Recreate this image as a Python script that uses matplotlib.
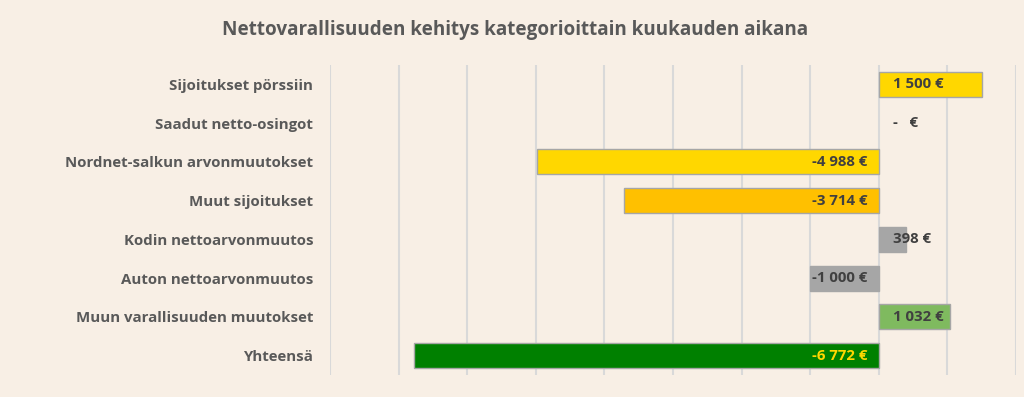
import matplotlib.pyplot as plt
import matplotlib as mpl

mpl.rcParams['font.family'] = ['Open Sans', 'DejaVu Sans']

# --- data ---
kategoriat = ['Sijoitukset pörssiin', 'Saadut netto-osingot', 'Nordnet-salkun arvonmuutokset',
              'Muut sijoitukset', 'Kodin nettoarvonmuutos', 'Auton nettoarvonmuutos',
              'Muun varallisuuden muutokset', 'Yhteensä']
arvot = [1500, 0, -4988, -3714, 398, -1000, 1032, -6772]
nimiot = ['1 500 €', '-   €', '-4 988 €', '-3 714 €', '398 €', '-1 000 €', '1 032 €', '-6 772 €']
varit = ['#FFD700', '#FFD700', '#FFD700', '#FFC000', '#A6A6A6', '#A6A6A6', '#7FBA5F', '#008000']
tekstivarit = ['#404040'] * 7 + ['#FFD700']

BG = '#F8EFE5'
fig = plt.figure(figsize=(10.24, 3.97), dpi=100, facecolor=BG)
ax = fig.add_axes([330/1024, 22/397, 686/1024, 310/397], facecolor=BG)

y = list(range(len(kategoriat)))
reunat = ['none' if v == 0 else '#A6A6A6' for v in arvot]
ax.barh(y, arvot, height=0.65, color=varit, edgecolor=reunat, linewidth=1.0, zorder=3)

for yi, v, txt, tc in zip(y, arvot, nimiot, tekstivarit):
    if v < 0:
        ax.annotate(txt, (0, yi), xytext=(-8, 0), textcoords='offset points',
                    ha='right', va='center', fontsize=10.8, fontweight='bold', color=tc, zorder=4)
    else:
        ax.annotate(txt, (0, yi), xytext=(10, 0), textcoords='offset points',
                    ha='left', va='center', fontsize=10.8, fontweight='bold', color=tc, zorder=4)

ax.set_xlim(-8000, 2000)
ax.set_ylim(len(kategoriat) - 0.5, -0.5)
ax.set_xticks(range(-8000, 2001, 1000))
ax.set_xticklabels([])
ax.tick_params(axis='x', length=0)
ax.tick_params(axis='y', length=0, pad=12)
ax.set_yticks(y)
ax.set_yticklabels(kategoriat, fontsize=10.8, fontweight='bold', color='#595959')
ax.grid(axis='x', color='#D9D9D9', linewidth=1.5, zorder=0)
for s in ax.spines.values():
    s.set_visible(False)

fig.text(0.503, 0.925, 'Nettovarallisuuden kehitys kategorioittain kuukauden aikana',
         ha='center', va='center', fontsize=13.6, fontweight='bold', color='#595959')

fig.savefig('out.png', dpi=100, facecolor=BG)
